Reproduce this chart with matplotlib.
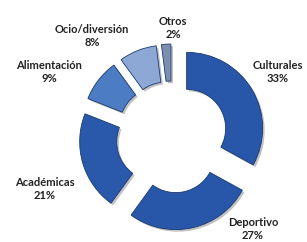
import matplotlib.pyplot as plt
import matplotlib.patheffects as pe

categories = ['Culturales', 'Deportivo', 'Académicas', 'Alimentación', 'Ocio/diversión', 'Otros']
values = [33, 27, 21, 9, 8, 2]
colors = ['#2856a8', '#2856a8', '#2a58aa', '#4c7cc4', '#8da8d4', '#7d8fb0']

# label placement in pixel coords (x, y from top)
label_pos = [(278, 72), (253, 229), (45, 189), (49, 72), (92, 36), (173, 28)]

fig = plt.figure(figsize=(3.07, 2.42), dpi=100)
ax = fig.add_axes([0, 0, 1, 1])

cx, cy = 172, 242 - 137
wedges, _ = ax.pie(values, colors=colors, startangle=90, counterclock=False,
                   radius=76, center=(cx, cy), explode=[17] * len(values),
                   wedgeprops=dict(width=37, edgecolor='#1a3a70', linewidth=0.6))
for w in wedges:
    w.set_path_effects([pe.SimplePatchShadow(offset=(1.5, -1.5), shadow_rgbFace='#777777', alpha=0.45),
                        pe.Normal()])

for name, v, (x, y) in zip(categories, values, label_pos):
    ax.text(x, 242 - y, f'{name}\n{v}%', ha='center', va='center', fontsize=8,
            fontweight='bold', color='#222222', family='Lato', linespacing=1.3)

ax.set_xlim(0, 307)
ax.set_ylim(0, 242)
ax.set_aspect('equal')
ax.axis('off')

fig.savefig('out.png', dpi=100)
